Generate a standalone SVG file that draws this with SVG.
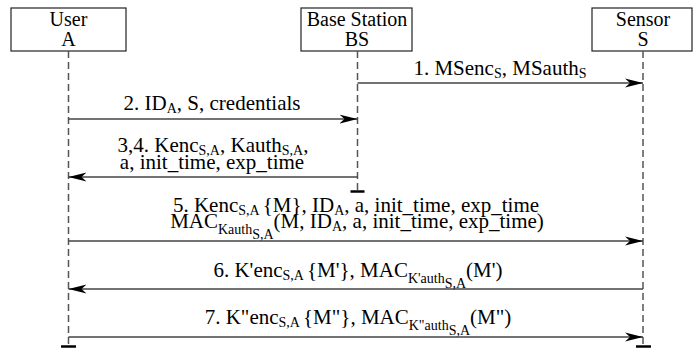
<svg xmlns="http://www.w3.org/2000/svg" width="694" height="348" viewBox="0 0 694 348">
<style>
text{font-family:"Liberation Serif","Times New Roman",serif;font-size:21px;fill:#000}
.n{font-size:20px}
.c{text-anchor:middle}
.s{font-size:14px}
.box{fill:#fff;stroke:#222;stroke-width:1.2}
.life{stroke:#555;stroke-width:1.5;stroke-dasharray:7,4;fill:none}
.end{stroke:#000;stroke-width:2.5}
.msg{stroke:#444;stroke-width:1.5;fill:none;marker-end:url(#ah)}
</style>
<defs>
<marker id="ah" markerUnits="userSpaceOnUse" markerWidth="20" markerHeight="12" refX="18" refY="6" orient="auto">
<path d="M0,1.5 L18,6 L0,10.5 L5,6 Z" fill="#000"/>
</marker>
</defs>
<g id="node-user">
<rect class="box" x="11" y="8" width="115" height="43"/>
<text class="c n" x="68.5" y="26">User</text>
<text class="c n" x="68.5" y="46">A</text>
</g>
<g id="node-bs">
<rect class="box" x="301" y="8" width="111" height="43"/>
<text class="c n" x="357" y="26">Base Station</text>
<text class="c n" x="357" y="46">BS</text>
</g>
<g id="node-sensor">
<rect class="box" x="592" y="8" width="100" height="43"/>
<text class="c n" x="643" y="26">Sensor</text>
<text class="c n" x="643" y="46">S</text>
</g>
<g id="lifelines">
<line class="life" x1="68.5" y1="51" x2="68.5" y2="347"/>
<line class="life" x1="357.5" y1="51" x2="357.5" y2="191"/>
<line class="life" x1="643" y1="51" x2="643" y2="347"/>
<line class="end" x1="61" y1="346.5" x2="76" y2="346.5"/>
<line class="end" x1="350.5" y1="191.5" x2="364.5" y2="191.5"/>
<line class="end" x1="636" y1="346.5" x2="651" y2="346.5"/>
</g>
<g id="connectors">
<line class="msg" x1="357.5" y1="83" x2="643" y2="83"/>
<line class="msg" x1="68.5" y1="119" x2="357.5" y2="119"/>
<line class="msg" x1="357.5" y1="177" x2="68.5" y2="177"/>
<line class="msg" x1="68.5" y1="241" x2="643" y2="241"/>
<line class="msg" x1="643" y1="289" x2="68.5" y2="289"/>
<line class="msg" x1="68.5" y1="337" x2="643" y2="337"/>
</g>
<g id="labels">
<text class="c" x="500" y="75">1. MSenc<tspan class="s" dy="3">S</tspan><tspan dy="-3">, MSauth</tspan><tspan class="s" dy="3">S</tspan></text>
<text class="c" x="212" y="110">2. ID<tspan class="s" dy="3">A</tspan><tspan dy="-3">, S, credentials</tspan></text>
<text class="c" x="213" y="152">3,4. Kenc<tspan class="s" dy="3">S,A</tspan><tspan dy="-3">, Kauth</tspan><tspan class="s" dy="3">S,A</tspan><tspan dy="-3">,</tspan></text>
<text class="c" x="212" y="169">a, init_time, exp_time</text>
<text class="c" x="356" y="212">5. Kenc<tspan class="s" dy="3">S,A</tspan><tspan dx="3" dy="-3">{M}, ID</tspan><tspan class="s" dy="3">A</tspan><tspan dy="-3">, a, init_time, exp_time</tspan></text>
<text class="c" x="357" y="228">MAC<tspan class="s" dy="6">Kauth</tspan><tspan class="s" dy="5">S,A</tspan><tspan dy="-11">(M, ID</tspan><tspan class="s" dy="3">A</tspan><tspan dy="-3">, a, init_time, exp_time)</tspan></text>
<text class="c" x="358" y="277">6. K'enc<tspan class="s" dy="3">S,A</tspan><tspan dx="3" dy="-3">{M'}, MAC</tspan><tspan class="s" dy="6">K'auth</tspan><tspan class="s" dy="5">S,A</tspan><tspan dy="-11">(M')</tspan></text>
<text class="c" x="358" y="324">7. K"enc<tspan class="s" dy="3">S,A</tspan><tspan dx="3" dy="-3">{M"}, MAC</tspan><tspan class="s" dy="6">K"auth</tspan><tspan class="s" dy="5">S,A</tspan><tspan dy="-11">(M")</tspan></text>
</g>
</svg>
